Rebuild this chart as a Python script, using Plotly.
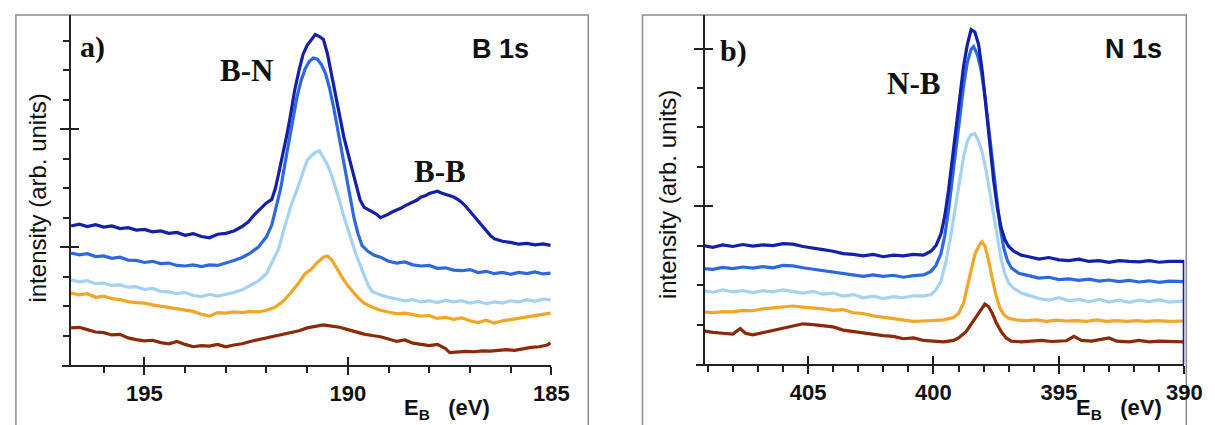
import plotly.graph_objects as go

W, H = 1215, 425

# ---------------- Panel a : B 1s (binding energy in eV, intensity in tick units) ----------------
a_dark_x = [196.8, 196.6, 196.4, 196.2, 196.0, 195.8, 195.6, 195.4, 195.2, 195.0, 194.8, 194.6, 194.4, 194.2, 194.0,
            193.8, 193.6, 193.4, 193.2, 193.0, 192.8, 192.6, 192.45, 192.3, 192.15, 192.0, 191.87, 191.78, 191.7,
            191.6, 191.5, 191.4, 191.31, 191.2, 191.1, 191.0, 190.9, 190.8, 190.7, 190.6, 190.5, 190.4, 190.3,
            190.2, 190.1, 190.0, 189.9, 189.8, 189.7, 189.6, 189.5, 189.4, 189.3, 189.2, 189.1, 189.0, 188.9,
            188.8, 188.7, 188.6, 188.5, 188.4, 188.3, 188.2, 188.1, 188.0, 187.9, 187.8, 187.7, 187.6, 187.5,
            187.4, 187.3, 187.2, 187.1, 187.0, 186.9, 186.8, 186.7, 186.6, 186.5, 186.4, 186.3, 186.2, 186.0,
            185.8, 185.6, 185.4, 185.2, 185.02]
a_dark_y = [4.72, 4.78, 4.70, 4.76, 4.68, 4.72, 4.63, 4.66, 4.58, 4.60, 4.52, 4.55, 4.47, 4.50, 4.40,
            4.46, 4.36, 4.32, 4.44, 4.47, 4.55, 4.70, 4.85, 5.10, 5.30, 5.50, 5.62, 6.00, 6.50,
            7.10, 7.80, 8.55, 9.30, 10.00, 10.55, 10.85, 11.05, 11.22, 11.15, 11.05, 10.55, 9.85, 9.15,
            8.40, 7.75, 7.20, 6.65, 6.10, 5.60, 5.35, 5.28, 5.20, 5.12, 5.00, 5.05, 5.12, 5.20,
            5.25, 5.32, 5.40, 5.46, 5.52, 5.60, 5.70, 5.74, 5.82, 5.86, 5.90, 5.84, 5.80, 5.76,
            5.70, 5.62, 5.52, 5.38, 5.22, 5.05, 4.88, 4.72, 4.55, 4.40, 4.28, 4.24, 4.20, 4.16,
            4.10, 4.13, 4.08, 4.11, 4.06]

a_mid_x = [196.8, 196.6, 196.4, 196.2, 196.0, 195.8, 195.6, 195.4, 195.2, 195.0, 194.8, 194.6, 194.4, 194.2, 194.0,
           193.8, 193.6, 193.4, 193.2, 193.0, 192.8, 192.6, 192.4, 192.2, 192.0, 191.87, 191.75, 191.65, 191.55,
           191.45, 191.35, 191.25, 191.15, 191.05, 190.95, 190.85, 190.75, 190.65, 190.55, 190.45, 190.35, 190.25,
           190.15, 190.05, 189.95, 189.85, 189.75, 189.65, 189.5, 189.35, 189.2, 189.0, 188.8, 188.6, 188.4,
           188.2, 188.0, 187.8, 187.6, 187.4, 187.2, 187.0, 186.8, 186.6, 186.4, 186.2, 186.0, 185.8, 185.6,
           185.4, 185.2, 185.02]
a_mid_y = [3.80, 3.74, 3.78, 3.68, 3.70, 3.62, 3.66, 3.56, 3.55, 3.48, 3.52, 3.44, 3.46, 3.38, 3.36,
           3.40, 3.34, 3.40, 3.38, 3.46, 3.55, 3.65, 3.80, 4.00, 4.35, 4.75, 5.40, 6.00, 6.80,
           7.60, 8.40, 9.10, 9.65, 10.05, 10.30, 10.42, 10.38, 10.20, 9.90, 9.40, 8.75, 8.00,
           7.30, 6.55, 5.80, 5.00, 4.45, 4.05, 3.85, 3.72, 3.66, 3.52, 3.46, 3.50, 3.40,
           3.36, 3.38, 3.28, 3.30, 3.22, 3.20, 3.24, 3.14, 3.18, 3.10, 3.14, 3.08, 3.14, 3.10,
           3.16, 3.09, 3.12]

a_light_x = [196.8, 196.6, 196.4, 196.2, 196.0, 195.8, 195.6, 195.4, 195.2, 195.0, 194.8, 194.6, 194.4, 194.2, 194.0,
             193.8, 193.6, 193.4, 193.2, 193.0, 192.8, 192.6, 192.4, 192.2, 192.0, 191.85, 191.7, 191.55, 191.4,
             191.25, 191.1, 191.0, 190.9, 190.8, 190.7, 190.6, 190.5, 190.4, 190.3, 190.2, 190.1, 190.0, 189.9,
             189.8, 189.7, 189.6, 189.5, 189.4, 189.2, 189.0, 188.8, 188.6, 188.4, 188.2, 188.0, 187.8, 187.6,
             187.4, 187.2, 187.0, 186.8, 186.6, 186.4, 186.2, 186.0, 185.8, 185.6, 185.4, 185.2, 185.02]
a_light_y = [2.89, 2.82, 2.86, 2.76, 2.78, 2.70, 2.72, 2.64, 2.66, 2.56, 2.60, 2.50, 2.48, 2.42, 2.46,
             2.36, 2.32, 2.40, 2.34, 2.40, 2.46, 2.55, 2.70, 2.85, 3.10, 3.50, 3.95, 4.70, 5.40,
             5.95, 6.55, 6.95, 7.10, 7.22, 7.27, 7.05, 6.80, 6.45, 6.02, 5.55, 5.05, 4.60, 4.15,
             3.75, 3.40, 3.05, 2.70, 2.50, 2.38, 2.30, 2.24, 2.18, 2.22, 2.14, 2.18, 2.12, 2.20,
             2.14, 2.18, 2.10, 2.16, 2.08, 2.14, 2.10, 2.18, 2.14, 2.22, 2.16, 2.24, 2.21]

a_orange_x = [196.8, 196.6, 196.4, 196.2, 196.0, 195.8, 195.6, 195.4, 195.2, 195.0, 194.8, 194.6, 194.4, 194.2, 194.0,
              193.8, 193.6, 193.4, 193.2, 193.0, 192.8, 192.6, 192.4, 192.2, 192.0, 191.8, 191.6, 191.4, 191.2,
              191.05, 190.9, 190.75, 190.6, 190.5, 190.4, 190.3, 190.2, 190.1, 190.0, 189.9, 189.8, 189.7, 189.6,
              189.4, 189.2, 189.0, 188.8, 188.6, 188.4, 188.2, 188.0, 187.8, 187.6, 187.4, 187.2, 187.0, 186.8,
              186.6, 186.4, 186.2, 186.0, 185.8, 185.6, 185.4, 185.2, 185.02]
a_orange_y = [2.44, 2.38, 2.42, 2.30, 2.34, 2.25, 2.22, 2.15, 2.12, 2.10, 2.04, 2.00, 1.96, 1.92, 1.86,
              1.82, 1.72, 1.66, 1.78, 1.76, 1.80, 1.78, 1.82, 1.80, 1.86, 1.95, 2.15, 2.45, 2.80,
              3.10, 3.25, 3.48, 3.66, 3.70, 3.58, 3.35, 3.10, 2.88, 2.70, 2.52, 2.36, 2.22, 2.10,
              1.96, 1.86, 1.80, 1.74, 1.76, 1.70, 1.66, 1.68, 1.58, 1.62, 1.55, 1.60, 1.50, 1.44,
              1.52, 1.42, 1.50, 1.54, 1.58, 1.62, 1.66, 1.70, 1.76]

a_brown_x = [196.8, 196.6, 196.4, 196.2, 196.0, 195.8, 195.6, 195.4, 195.2, 195.0, 194.8, 194.6, 194.4, 194.2, 194.0,
             193.8, 193.6, 193.4, 193.2, 193.0, 192.8, 192.6, 192.4, 192.2, 192.0, 191.8, 191.6, 191.4, 191.2,
             191.0, 190.8, 190.6, 190.4, 190.2, 190.0, 189.8, 189.6, 189.4, 189.2, 189.0, 188.8, 188.6, 188.4,
             188.2, 188.0, 187.8, 187.6, 187.5, 187.3, 187.1, 186.9, 186.7, 186.5, 186.3, 186.1, 185.9, 185.7,
             185.5, 185.3, 185.1, 185.02]
a_brown_y = [1.26, 1.28, 1.20, 1.12, 1.10, 1.02, 1.04, 0.92, 0.86, 0.82, 0.84, 0.76, 0.72, 0.80, 0.70,
             0.62, 0.66, 0.64, 0.70, 0.62, 0.68, 0.72, 0.80, 0.86, 0.92, 0.98, 1.05, 1.12, 1.16,
             1.26, 1.30, 1.36, 1.32, 1.28, 1.20, 1.12, 1.05, 1.00, 0.96, 0.88, 0.80, 0.85, 0.74,
             0.70, 0.66, 0.70, 0.56, 0.42, 0.44, 0.46, 0.45, 0.48, 0.47, 0.50, 0.52, 0.50, 0.56,
             0.60, 0.62, 0.68, 0.75]

# ---------------- Panel b : N 1s ----------------
b_dark_x = [409.16, 408.8, 408.4, 408.0, 407.6, 407.2, 406.8, 406.4, 406.0, 405.6, 405.2, 404.8, 404.4, 404.0, 403.6,
            403.2, 402.8, 402.4, 402.0, 401.6, 401.2, 400.8, 400.4, 400.1, 399.9, 399.7, 399.55, 399.4, 399.25,
            399.1, 398.95, 398.8, 398.65, 398.5, 398.35, 398.2, 398.05, 397.9, 397.75, 397.6, 397.45, 397.3,
            397.15, 397.0, 396.8, 396.5, 396.2, 395.8, 395.4, 395.0, 394.6, 394.2, 393.8, 393.4, 393.0, 392.6,
            392.2, 391.8, 391.4, 391.0, 390.6, 390.2, 390.0, 390.0]
b_dark_y = [3.00, 2.96, 3.02, 2.98, 3.03, 2.99, 3.02, 3.00, 3.05, 3.04, 2.98, 2.95, 2.90, 2.86, 2.80,
            2.78, 2.74, 2.78, 2.72, 2.76, 2.74, 2.78, 2.76, 2.86, 3.00, 3.30, 3.75, 4.40, 5.20,
            6.00, 6.85, 7.55, 8.10, 8.48, 8.42, 8.10, 7.40, 6.50, 5.55, 4.65, 3.95, 3.45,
            3.15, 2.98, 2.86, 2.76, 2.72, 2.66, 2.70, 2.64, 2.62, 2.66, 2.60, 2.62, 2.58, 2.62,
            2.60, 2.59, 2.62, 2.58, 2.60, 2.60, 2.60, 0.0]

b_mid_x = [409.16, 408.8, 408.4, 408.0, 407.6, 407.2, 406.8, 406.4, 406.0, 405.6, 405.2, 404.8, 404.4, 404.0, 403.6,
           403.2, 402.8, 402.4, 402.0, 401.6, 401.2, 400.8, 400.4, 400.1, 399.9, 399.7, 399.55, 399.4, 399.25,
           399.1, 398.95, 398.8, 398.65, 398.5, 398.4, 398.25, 398.1, 397.95, 397.8, 397.65, 397.5, 397.35,
           397.2, 397.05, 396.9, 396.6, 396.2, 395.8, 395.4, 395.0, 394.6, 394.2, 393.8, 393.4, 393.0, 392.6,
           392.2, 391.8, 391.4, 391.0, 390.6, 390.0]
b_mid_y = [2.42, 2.40, 2.45, 2.42, 2.46, 2.43, 2.47, 2.44, 2.50, 2.49, 2.44, 2.40, 2.36, 2.32, 2.28,
           2.26, 2.22, 2.26, 2.22, 2.25, 2.20, 2.24, 2.26, 2.35, 2.50, 2.80, 3.25, 3.90, 4.70,
           5.50, 6.30, 7.05, 7.65, 7.98, 8.05, 7.85, 7.45, 6.80, 6.00, 5.15, 4.30, 3.50,
           2.95, 2.62, 2.44, 2.30, 2.24, 2.18, 2.20, 2.14, 2.16, 2.12, 2.15, 2.10, 2.13, 2.09,
           2.12, 2.08, 2.11, 2.07, 2.10, 2.09]

b_light_x = [409.16, 408.8, 408.4, 408.0, 407.6, 407.2, 406.8, 406.4, 406.0, 405.6, 405.2, 404.8, 404.4, 404.0, 403.6,
             403.2, 402.8, 402.4, 402.0, 401.6, 401.2, 400.8, 400.4, 400.1, 399.9, 399.7, 399.5, 399.3, 399.1,
             398.95, 398.8, 398.65, 398.5, 398.35, 398.2, 398.05, 397.9, 397.75, 397.6, 397.45, 397.3, 397.15,
             397.0, 396.8, 396.5, 396.2, 395.8, 395.4, 395.0, 394.6, 394.2, 393.8, 393.4, 393.0, 392.6, 392.2,
             391.8, 391.4, 391.0, 390.6, 390.0]
b_light_y = [1.86, 1.82, 1.88, 1.83, 1.86, 1.81, 1.86, 1.83, 1.88, 1.84, 1.80, 1.84, 1.77, 1.80, 1.72,
             1.76, 1.68, 1.72, 1.66, 1.71, 1.68, 1.73, 1.72, 1.76, 1.88, 2.10, 2.60, 3.30, 4.05,
             4.70, 5.25, 5.65, 5.82, 5.84, 5.65, 5.35, 4.90, 4.35, 3.75, 3.15, 2.65, 2.28,
             2.05, 1.92, 1.80, 1.74, 1.66, 1.62, 1.68, 1.60, 1.64, 1.58, 1.64, 1.57, 1.62, 1.56,
             1.62, 1.58, 1.63, 1.57, 1.60]

b_orange_x = [409.16, 408.8, 408.4, 408.0, 407.6, 407.2, 406.8, 406.4, 406.0, 405.6, 405.2, 404.8, 404.4, 404.0, 403.6,
              403.2, 402.8, 402.4, 402.0, 401.6, 401.2, 400.8, 400.4, 400.0, 399.6, 399.2, 399.0, 398.8, 398.65,
              398.5, 398.35, 398.2, 398.08, 397.95, 397.8, 397.65, 397.5, 397.35, 397.2, 397.0, 396.7, 396.3,
              395.9, 395.5, 395.1, 394.7, 394.3, 393.9, 393.5, 393.1, 392.7, 392.3, 391.9, 391.5, 391.1, 390.6,
              390.0]
b_orange_y = [1.32, 1.30, 1.33, 1.32, 1.36, 1.35, 1.40, 1.42, 1.44, 1.47, 1.44, 1.43, 1.40, 1.36, 1.38,
              1.30, 1.28, 1.22, 1.18, 1.14, 1.10, 1.08, 1.09, 1.10, 1.12, 1.18, 1.28, 1.55, 1.95,
              2.40, 2.78, 2.98, 3.10, 3.00, 2.62, 2.15, 1.72, 1.42, 1.25, 1.16, 1.12, 1.10,
              1.12, 1.08, 1.11, 1.09, 1.10, 1.08, 1.12, 1.08, 1.10, 1.08, 1.10, 1.08, 1.10, 1.08,
              1.09]

b_brown_x = [409.16, 408.8, 408.4, 408.0, 407.7, 407.5, 407.2, 406.8, 406.4, 406.0, 405.6, 405.2, 404.8, 404.4, 404.0,
             403.6, 403.2, 402.8, 402.4, 402.0, 401.6, 401.2, 400.8, 400.4, 400.0, 399.6, 399.2, 399.0, 398.7,
             398.5, 398.3, 398.1, 397.95, 397.8, 397.65, 397.5, 397.3, 397.1, 396.9, 396.5, 396.1, 395.7, 395.3,
             394.7, 394.4, 394.1, 393.7, 393.3, 393.0, 392.7, 392.2, 391.8, 391.4, 391.0, 390.5, 390.0]
b_brown_y = [0.84, 0.80, 0.78, 0.76, 0.90, 0.78, 0.74, 0.80, 0.84, 0.92, 0.98, 1.02, 1.00, 0.96, 0.94,
             0.86, 0.82, 0.78, 0.76, 0.72, 0.70, 0.64, 0.66, 0.60, 0.58, 0.56, 0.60, 0.66, 0.82,
             1.00, 1.18, 1.36, 1.52, 1.45, 1.28, 1.05, 0.82, 0.66, 0.58, 0.56, 0.58, 0.60, 0.57,
             0.59, 0.70, 0.60, 0.58, 0.62, 0.66, 0.58, 0.56, 0.60, 0.56, 0.58, 0.56, 0.56]

colors = {"dark": "#1420a8", "mid": "#2d68e0", "light": "#a5d2f2", "orange": "#f2a526", "brown": "#8a2a08"}

a_series = [(a_brown_x, a_brown_y, "brown"), (a_orange_x, a_orange_y, "orange"),
            (a_light_x, a_light_y, "light"), (a_mid_x, a_mid_y, "mid"), (a_dark_x, a_dark_y, "dark")]
b_series = [(b_brown_x, b_brown_y, "brown"), (b_orange_x, b_orange_y, "orange"),
            (b_light_x, b_light_y, "light"), (b_mid_x, b_mid_y, "mid"), (b_dark_x, b_dark_y, "dark")]

a_major = [195, 190, 185]
a_minor = list(range(186, 197))
b_major = [405, 400, 395, 390]
b_minor = list(range(391, 410))


def px(x):
    return x / W


def py(y):
    return 1 - y / H


fig = go.Figure()
for xs, ys, c in a_series:
    fig.add_trace(go.Scatter(x=xs, y=ys, mode="lines", line=dict(color=colors[c], width=3.2),
                             xaxis="x", yaxis="y", showlegend=False, hoverinfo="skip"))
for xs, ys, c in b_series:
    fig.add_trace(go.Scatter(x=xs, y=ys, mode="lines", line=dict(color=colors[c], width=3.2),
                             xaxis="x2", yaxis="y2", showlegend=False, hoverinfo="skip"))
# helper traces so that the overlay axes (crossing major ticks) are drawn
fig.add_trace(go.Scatter(x=[None], y=[None], xaxis="x3", yaxis="y3", showlegend=False, hoverinfo="skip"))
fig.add_trace(go.Scatter(x=[None], y=[None], xaxis="x4", yaxis="y4", showlegend=False, hoverinfo="skip"))

tickfont = dict(family="Liberation Sans, Arial", size=22, color="#111111", weight="bold")
axcol = "#222222"

a_xrange = [197.02, 185.0]
a_yrange = [0, 11.88]
b_xrange = [409.48, 390.0]
b_yrange = [0, 8.85]

a_xdom = [px(55), px(551.5)]
a_ydom = [py(357), py(7)]
b_xdom = [px(698), px(1194)]
b_ydom = [py(356), py(7)]

common_x = dict(showgrid=False, zeroline=False, showline=True, linecolor=axcol, linewidth=1.5,
                ticks="outside", ticklen=8, tickwidth=1.5, tickcolor=axcol, tickfont=tickfont,
                ticklabelstandoff=0)
common_y = dict(showgrid=False, zeroline=False, showline=True, linecolor=axcol, linewidth=1.5,
                ticks="outside", ticklen=9, tickwidth=1.5, tickcolor=axcol, showticklabels=False)

fig.update_layout(
    width=W, height=H, margin=dict(l=0, r=0, t=0, b=0),
    plot_bgcolor="white", paper_bgcolor="white",
    xaxis=dict(domain=a_xdom, range=a_xrange, anchor="y", tickmode="array", tickvals=a_major,
               minor=dict(tickvals=a_minor, ticks="outside", ticklen=6, tickcolor=axcol, tickwidth=1.5),
               **common_x),
    yaxis=dict(domain=a_ydom, range=a_yrange, anchor="free", position=px(63), tickmode="array", tickvals=[4, 8],
               minor=dict(tickvals=list(range(1, 12)), ticks="outside", ticklen=6, tickcolor=axcol, tickwidth=1.5),
               **common_y),
    xaxis2=dict(domain=b_xdom, range=b_xrange, anchor="y2", tickmode="array", tickvals=b_major,
                minor=dict(tickvals=b_minor, ticks="outside", ticklen=6, tickcolor=axcol, tickwidth=1.5),
                **common_x),
    yaxis2=dict(domain=b_ydom, range=b_yrange, anchor="free", position=px(706), tickmode="array", tickvals=[4, 8],
                minor=dict(tickvals=list(range(1, 9)), ticks="outside", ticklen=6, tickcolor=axcol, tickwidth=1.5),
                **common_y),
    xaxis3=dict(overlaying="x", range=a_xrange, anchor="y3", showline=False, showgrid=False, zeroline=False,
                ticks="inside", tickvals=a_major, ticklen=8, tickwidth=1.5, tickcolor=axcol, showticklabels=False),
    yaxis3=dict(overlaying="y", range=a_yrange, anchor="free", position=px(63), showline=False, showgrid=False,
                zeroline=False, ticks="inside", tickvals=[4, 8], ticklen=8, tickwidth=1.5, tickcolor=axcol,
                showticklabels=False),
    xaxis4=dict(overlaying="x2", range=b_xrange, anchor="y4", showline=False, showgrid=False, zeroline=False,
                ticks="inside", tickvals=b_major, ticklen=8, tickwidth=1.5, tickcolor=axcol, showticklabels=False),
    yaxis4=dict(overlaying="y2", range=b_yrange, anchor="free", position=px(706), showline=False, showgrid=False,
                zeroline=False, ticks="inside", tickvals=[4, 8], ticklen=8, tickwidth=1.5, tickcolor=axcol,
                showticklabels=False),
)

# panel frames
frame = dict(type="rect", xref="paper", yref="paper", line=dict(color="#8c8c8c", width=1.5),
             fillcolor="rgba(0,0,0,0)", layer="below")
fig.add_shape(x0=px(8), x1=px(589), y0=py(440), y1=py(7), **frame)
fig.add_shape(x0=px(644), x1=px(1196), y0=py(440), y1=py(7), **frame)

serif = "Liberation Serif, Times New Roman"
sans = "Liberation Sans, Arial"


def ann(text, x, y, family, size, angle=0, yanchor="middle"):
    fig.add_annotation(text=text, x=px(x), y=py(y), xref="paper", yref="paper", showarrow=False,
                       xanchor="center", yanchor=yanchor, textangle=angle,
                       font=dict(family=family, size=size, color="#111111"))


ann("<b>a)</b>", 86, 39, serif, 30)
ann("<b>B 1s</b>", 500, 41, sans, 27)
ann("<b>B-N</b>", 242, 63, serif, 31)
ann("<b>B-B</b>", 439, 163, serif, 31)
ann("<b>b)</b>", 736, 43, serif, 30)
ann("<b>N 1s</b>", 1142, 41, sans, 27)
ann("<b>N-B</b>", 919, 75, serif, 31)
ann("intensity (arb. units)", 30, 190, sans, 24, -90)
ann("intensity (arb. units)", 670, 187, sans, 24, -90)
ann("<b>E<sub>B</sub>&nbsp;&nbsp;&nbsp;(eV)</b>", 446, 401, sans, 22)
ann("<b>E<sub>B</sub>&nbsp;&nbsp;&nbsp;(eV)</b>", 1128, 401, sans, 22)

fig.write_html("out.html")
